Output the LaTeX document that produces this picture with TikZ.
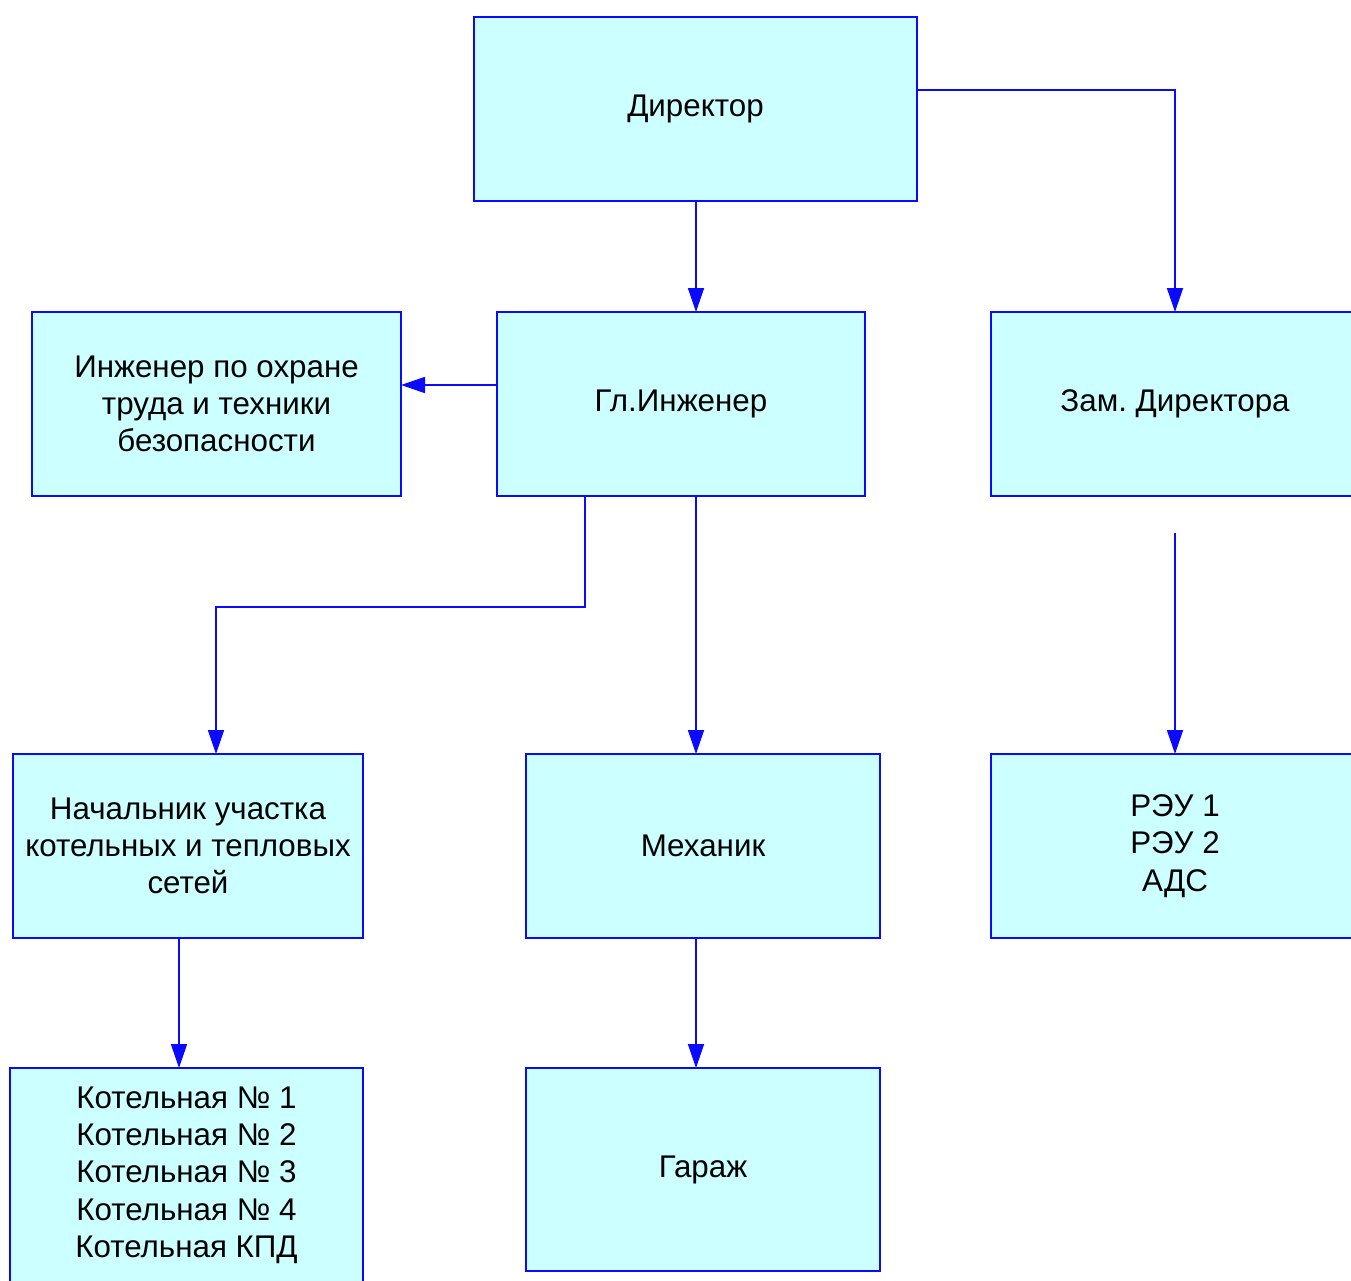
\documentclass[tikz,border=0pt]{standalone}
\usepackage{fontspec}
\setmainfont{Liberation Sans}
\usetikzlibrary{arrows.meta}
\definecolor{boxfill}{HTML}{CCFFFF}
\definecolor{boxline}{HTML}{0A0AFF}
\frenchspacing
\begin{document}
\begin{tikzpicture}[x=0.75pt,y=-0.75pt,
  box/.style={draw=boxline,fill=boxfill,line width=1.3pt,inner sep=0pt,outer sep=0pt,
    align=center,font=\fontsize{23.5}{28}\selectfont\frenchspacing},
  arr/.style={draw=boxline,line width=1.3pt,-{Triangle[length=18pt,width=12pt]}}]
\useasboundingbox (0,0) rectangle (1351,1280);
\clip (0,0) rectangle (1351,1280);
\node[box,minimum width=332.25pt,minimum height=138pt] (dir) at (695.5,109) {\raisebox{1pt}{Директор}};
\node[box,minimum width=276pt,minimum height=138pt] (gl) at (681,404) {Гл.Инженер};
\node[box,minimum width=276pt,minimum height=138pt] (zam) at (1175,404) {Зам. Директора};
\node[box,minimum width=276.75pt,minimum height=138pt] (ohr) at (216.5,404) {Инженер по охране\\труда и техники\\безопасности};
\node[box,minimum width=262.5pt,minimum height=138pt] (nach) at (188,846) {Начальник участка\\котельных и тепловых\\сетей};
\node[box,minimum width=265.5pt,minimum height=138pt] (mech) at (703,846) {Механик};
\node[box,minimum width=276pt,minimum height=138pt] (reu) at (1175,846) {РЭУ 1\\РЭУ 2\\АДС};
\node[box,minimum width=264.75pt,minimum height=160.5pt] (kot) at (186.5,1175) {Котельная № 1\\Котельная № 2\\Котельная № 3\\Котельная № 4\\Котельная КПД};
\node[box,minimum width=265.5pt,minimum height=152.25pt] (gar) at (703,1169.5) {\raisebox{1pt}{Гараж}};
\coordinate (reuin) at (1175,533);
\draw[arr] (dir.south -| 696,0) -- (gl.north -| 696,0);
\draw[arr] (dir.east |- 0,90) -| (zam.north);
\draw[arr] (gl.west |- 0,385) -- (ohr.east |- 0,385);
\draw[arr] (gl.south -| 585,0) |- (216,607) -- (nach.north -| 216,0);
\draw[arr] (gl.south -| 696,0) -- (mech.north -| 696,0);
\draw[arr] (reuin) -- (reu.north);
\draw[arr] (nach.south -| 179,0) -- (kot.north -| 179,0);
\draw[arr] (mech.south -| 696,0) -- (gar.north -| 696,0);
\end{tikzpicture}
\end{document}
